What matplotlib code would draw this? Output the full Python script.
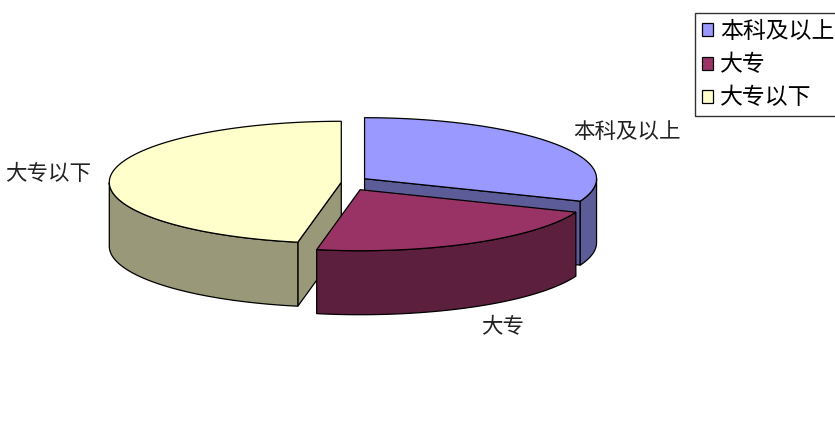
import numpy as np
import matplotlib
matplotlib.use("Agg")
import matplotlib.pyplot as plt
from matplotlib.patches import Polygon, Patch

plt.rcParams['font.family'] = ['Noto Sans CJK SC', 'DejaVu Sans']

# ---- data ----
categories = ["本科及以上", "大专", "大专以下"]
values = [31, 22, 47]
explode = [0.055, 0.055, 0.055]
top_colors = ["#9999FF", "#993366", "#FFFFCC"]
side_colors = ["#5C5C99", "#5C1F3D", "#99997A"]

# ---- geometry / style (pixel space of the figure) ----
W, H = 835, 421
cx, cy = 354, 183      # centre of top face
rx, ry = 232, 61       # ellipse radii
depth = 64             # thickness
start = 90.0           # first slice begins at 12 o'clock, clockwise

fig = plt.figure(figsize=(W / 100, H / 100), dpi=100)
ax = fig.add_axes([0, 0, 1, 1])
ax.set_xlim(0, W)
ax.set_ylim(H, 0)
ax.axis("off")

total = float(sum(values))
slices = []
a = start
for i, v in enumerate(values):
    sweep = 360.0 * v / total
    a_end = a - sweep            # clockwise
    lo, hi = a_end, a
    mid = np.radians((lo + hi) / 2)
    d = explode[i] * rx
    ox = cx + d * np.cos(mid)
    oy = cy - d * 0.6 * np.sin(mid)
    slices.append(dict(i=i, lo=lo, hi=hi, mid=mid, ox=ox, oy=oy))
    a = a_end


def pt(s, ang_deg, z=0.0):
    t = np.radians(ang_deg)
    return (s["ox"] + rx * np.cos(t), s["oy"] - ry * np.sin(t) + z)


def draw_slice(s):
    i = s["i"]
    lo, hi = s["lo"], s["hi"]
    ec = "black"
    lw = 0.9
    # radial faces (visible ones)
    for ang, normal_sign in ((lo, -1), (hi, +1)):
        t = np.radians(ang)
        nvis = np.sin(t + normal_sign * np.pi / 2)
        if nvis < -1e-6:
            c_top = (s["ox"], s["oy"])
            r_top = pt(s, ang)
            poly = [c_top, r_top, (r_top[0], r_top[1] + depth), (c_top[0], c_top[1] + depth)]
            ax.add_patch(Polygon(poly, closed=True, fc=side_colors[i], ec=ec, lw=lw, zorder=2))
    # outer wall: front part (angles where sin < 0)
    angs = np.linspace(lo, hi, 400)
    front = np.sin(np.radians(angs)) < 0
    if front.any():
        fa = angs[front]
        topp = [pt(s, x) for x in fa]
        botp = [pt(s, x, depth) for x in fa[::-1]]
        ax.add_patch(Polygon(topp + botp, closed=True, fc=side_colors[i], ec=ec, lw=lw, zorder=2))
    # top face
    arc = [pt(s, x) for x in np.linspace(lo, hi, 400)]
    ax.add_patch(Polygon([(s["ox"], s["oy"])] + arc, closed=True,
                         fc=top_colors[i], ec=ec, lw=lw, zorder=2))


# painter's order: back to front
order = sorted(slices, key=lambda s: -np.sin(s["mid"]))
for s in order:
    draw_slice(s)

# labels
for s in slices:
    m = s["mid"]
    c, sn = np.cos(m), np.sin(m)
    x = cx + rx * 1.14 * c
    y = cy - ry * 1.5 * sn + (depth if sn < 0 else 0)
    ha = "left" if c > 0.3 else ("right" if c < -0.3 else "center")
    ax.text(x, y, categories[s["i"]], ha=ha, va="center", fontsize=15.5, color="#222222")

# legend
handles = [Patch(fc=top_colors[i], ec="black", lw=0.9) for i in range(len(categories))]
leg = fig.legend(handles, categories, loc="upper left",
                 bbox_to_anchor=(695 / W, 1 - 13 / H), frameon=True, fancybox=False,
                 edgecolor="black", fontsize=16.5, handlelength=0.5, handleheight=0.5,
                 handletextpad=0.3, labelspacing=0.45, borderpad=0.3, borderaxespad=0)
leg.get_frame().set_linewidth(1.0)

fig.savefig("out.png", dpi=100, facecolor="white")
